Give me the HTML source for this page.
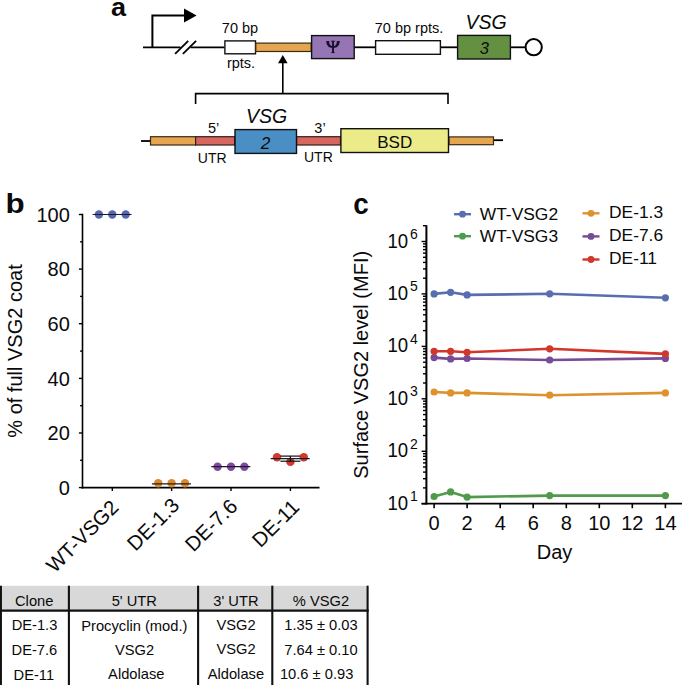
<!DOCTYPE html>
<html><head><meta charset="utf-8"><style>
html,body{margin:0;padding:0;background:#fff;}
body{width:682px;height:685px;position:relative;overflow:hidden;font-family:"Liberation Sans",sans-serif;}
svg{position:absolute;left:0;top:0;}
svg text{font-family:"Liberation Sans",sans-serif;fill:#0a0a0a;}
svg text.serif{font-family:"Liberation Serif",serif;}
</style></head><body>
<svg width="682" height="685" viewBox="0 0 682 685">
<text transform="translate(110.9,15.5) scale(1.04,1)" font-size="26" font-weight="bold">a</text>
<polyline points="152.4,47.3 152.4,15.6 185,15.6" fill="none" stroke="#000" stroke-width="2"/>
<polygon points="184,8.4 196.6,15.6 184,22.6" fill="#000"/>
<line x1="143" y1="47.3" x2="180.5" y2="47.3" stroke="#000" stroke-width="1.8"/>
<line x1="190.5" y1="47.3" x2="224.5" y2="47.3" stroke="#000" stroke-width="1.8"/>
<line x1="175.1" y1="53.9" x2="188.2" y2="40.9" stroke="#000" stroke-width="1.8"/>
<line x1="182.9" y1="53.9" x2="196.1" y2="40.9" stroke="#000" stroke-width="1.8"/>
<line x1="354" y1="47.3" x2="376" y2="47.3" stroke="#000" stroke-width="1.8"/>
<line x1="440" y1="47.3" x2="458" y2="47.3" stroke="#000" stroke-width="1.8"/>
<line x1="510" y1="47.3" x2="526" y2="47.3" stroke="#000" stroke-width="1.8"/>
<rect x="224.9" y="40.9" width="30.6" height="12.9" fill="#fff" stroke="#111" stroke-width="1.4"/>
<rect x="255.8" y="43.1" width="55.4" height="8.4" fill="#E5A652" stroke="#3a2a10" stroke-width="1.2"/>
<rect x="311.6" y="35.6" width="42.6" height="23" fill="#9675B4" stroke="#111" stroke-width="1.4"/>
<g fill="#1a1030"><path d="M326.2,41.0 L329.2,41.0 C329.0,43.8 330.0,46.0 333,46.3 L333,47.9 C328.3,47.9 326.5,45.4 326.2,41.0 Z"/><path d="M339.8,41.0 L336.8,41.0 C337.0,43.8 336.0,46.0 333,46.3 L333,47.9 C337.7,47.9 339.5,45.4 339.8,41.0 Z"/><rect x="332.05" y="41.0" width="1.9" height="11.9"/><rect x="330.9" y="40.7" width="4.2" height="0.9"/><rect x="331.3" y="52.2" width="3.4" height="0.9"/></g>
<rect x="375.6" y="40.7" width="64.8" height="13.6" fill="#fff" stroke="#111" stroke-width="1.4"/>
<rect x="457.6" y="35.4" width="52.8" height="23.6" fill="#649042" stroke="#111" stroke-width="1.4"/>
<text x="484.3" y="54.1" font-size="16.5" font-style="italic" text-anchor="middle" fill="#111">3</text>
<circle cx="533.7" cy="47.2" r="8.1" fill="#fff" stroke="#000" stroke-width="2"/>
<text x="240" y="33.2" font-size="14.5" text-anchor="middle">70 bp</text>
<text x="241" y="67.9" font-size="14.5" text-anchor="middle">rpts.</text>
<text x="409" y="33.2" font-size="14.5" text-anchor="middle">70 bp rpts.</text>
<text x="486" y="28.6" font-size="19.5" font-style="italic" text-anchor="middle">VSG</text>
<line x1="282.8" y1="62" x2="282.8" y2="94" stroke="#000" stroke-width="1.6"/>
<polygon points="278,63.2 282.8,55 287.6,63.2" fill="#000"/>
<polyline points="195.6,104 195.6,93.6 448,93.6 448,104" fill="none" stroke="#000" stroke-width="1.6"/>
<line x1="141" y1="141" x2="151" y2="141" stroke="#000" stroke-width="1.8"/>
<line x1="493" y1="140.2" x2="503" y2="140.2" stroke="#000" stroke-width="1.8"/>
<rect x="150.5" y="136.7" width="45.1" height="8.3" fill="#E5A652" stroke="#3a2a10" stroke-width="1.2"/>
<rect x="195.6" y="136.7" width="39" height="8.3" fill="#D6665E" stroke="#3a1a1a" stroke-width="1.2"/>
<rect x="296.5" y="136.7" width="44" height="8.3" fill="#D6665E" stroke="#3a1a1a" stroke-width="1.2"/>
<rect x="449" y="136.9" width="44.5" height="7.8" fill="#E5A652" stroke="#3a2a10" stroke-width="1.2"/>
<rect x="235" y="129.6" width="61.5" height="23.8" fill="#4A8FC4" stroke="#111" stroke-width="1.4"/>
<rect x="340.9" y="128.7" width="107.6" height="23.8" fill="#ECEB8A" stroke="#111" stroke-width="1.4"/>
<text x="265.6" y="149.1" font-size="17.2" font-style="italic" text-anchor="middle" fill="#0a1a30">2</text>
<text x="394.7" y="147.7" font-size="17" text-anchor="middle">BSD</text>
<text x="266.6" y="123.4" font-size="19.5" font-style="italic" text-anchor="middle">VSG</text>
<text x="213.6" y="132.7" font-size="14.5" text-anchor="middle">5&#8217;</text>
<text x="320" y="132.5" font-size="14.5" text-anchor="middle">3&#8217;</text>
<text x="212.2" y="163.3" font-size="14" text-anchor="middle">UTR</text>
<text x="318.4" y="162.4" font-size="14" text-anchor="middle">UTR</text>
<text transform="translate(5.6,213) scale(1.1,1)" font-size="28.5" font-weight="bold">b</text>
<line x1="82.5" y1="213.8" x2="82.5" y2="488.4" stroke="#000" stroke-width="1.6"/>
<line x1="81.7" y1="487.6" x2="319.5" y2="487.6" stroke="#000" stroke-width="1.6"/>
<line x1="78.9" y1="487.6" x2="82.5" y2="487.6" stroke="#000" stroke-width="1.4"/>
<text x="69.8" y="494.8" font-size="20" text-anchor="end">0</text>
<line x1="80.1" y1="460.3" x2="82.5" y2="460.3" stroke="#000" stroke-width="1.4"/>
<line x1="78.9" y1="433.0" x2="82.5" y2="433.0" stroke="#000" stroke-width="1.4"/>
<text x="69.8" y="440.2" font-size="20" text-anchor="end">20</text>
<line x1="80.1" y1="405.7" x2="82.5" y2="405.7" stroke="#000" stroke-width="1.4"/>
<line x1="78.9" y1="378.4" x2="82.5" y2="378.4" stroke="#000" stroke-width="1.4"/>
<text x="69.8" y="385.6" font-size="20" text-anchor="end">40</text>
<line x1="80.1" y1="351.1" x2="82.5" y2="351.1" stroke="#000" stroke-width="1.4"/>
<line x1="78.9" y1="323.7" x2="82.5" y2="323.7" stroke="#000" stroke-width="1.4"/>
<text x="69.8" y="330.9" font-size="20" text-anchor="end">60</text>
<line x1="80.1" y1="296.4" x2="82.5" y2="296.4" stroke="#000" stroke-width="1.4"/>
<line x1="78.9" y1="269.1" x2="82.5" y2="269.1" stroke="#000" stroke-width="1.4"/>
<text x="69.8" y="276.3" font-size="20" text-anchor="end">80</text>
<line x1="80.1" y1="241.8" x2="82.5" y2="241.8" stroke="#000" stroke-width="1.4"/>
<line x1="78.9" y1="214.5" x2="82.5" y2="214.5" stroke="#000" stroke-width="1.4"/>
<text x="69.8" y="221.7" font-size="20" text-anchor="end">100</text>
<line x1="112.3" y1="487.6" x2="112.3" y2="491" stroke="#000" stroke-width="1.4"/>
<line x1="171.6" y1="487.6" x2="171.6" y2="491" stroke="#000" stroke-width="1.4"/>
<line x1="231.0" y1="487.6" x2="231.0" y2="491" stroke="#000" stroke-width="1.4"/>
<line x1="290.4" y1="487.6" x2="290.4" y2="491" stroke="#000" stroke-width="1.4"/>
<text transform="translate(21.8,351) rotate(-90)" font-size="20" text-anchor="middle">% of full VSG2 coat</text>
<text transform="translate(119.9,508.6) rotate(-45)" font-size="20.5" text-anchor="end">WT-VSG2</text>
<text transform="translate(180.6,506.8) rotate(-45)" font-size="20.5" text-anchor="end">DE-1.3</text>
<text transform="translate(238.7,507.6) rotate(-45)" font-size="20.5" text-anchor="end">DE-7.6</text>
<text transform="translate(300.6,508.4) rotate(-45)" font-size="20.5" text-anchor="end">DE-11</text>
<circle cx="98.9" cy="214.5" r="4.2" fill="#5566AE"/>
<circle cx="112.3" cy="214.5" r="4.2" fill="#5566AE"/>
<circle cx="125.7" cy="214.5" r="4.2" fill="#5566AE"/>
<line x1="92.6" y1="214.5" x2="131.6" y2="214.5" stroke="#1a1a2a" stroke-width="1.2"/>
<circle cx="158.2" cy="483.2" r="4.2" fill="#D98A2B"/>
<circle cx="171.6" cy="483.2" r="4.2" fill="#D98A2B"/>
<circle cx="185.0" cy="483.2" r="4.2" fill="#D98A2B"/>
<line x1="151.9" y1="483.9" x2="190.9" y2="483.9" stroke="#1a1a2a" stroke-width="1.2"/>
<circle cx="217.6" cy="466.7" r="4.2" fill="#7F4A9E"/>
<circle cx="231.0" cy="466.7" r="4.2" fill="#7F4A9E"/>
<circle cx="244.4" cy="466.7" r="4.2" fill="#7F4A9E"/>
<line x1="211.3" y1="466.7" x2="250.3" y2="466.7" stroke="#1a1a2a" stroke-width="1.2"/>
<circle cx="277.0" cy="457.2" r="4.2" fill="#D03A2E"/>
<circle cx="290.4" cy="461.9" r="4.2" fill="#D03A2E"/>
<circle cx="303.8" cy="457.2" r="4.2" fill="#D03A2E"/>
<line x1="270.7" y1="458.7" x2="309.7" y2="458.7" stroke="#1a1a2a" stroke-width="1.2"/>
<line x1="290.4" y1="456.1" x2="290.4" y2="461.2" stroke="#111" stroke-width="1.2"/>
<line x1="280.4" y1="456.1" x2="300.4" y2="456.1" stroke="#111" stroke-width="1.2"/>
<line x1="280.4" y1="461.2" x2="300.4" y2="461.2" stroke="#111" stroke-width="1.2"/>
<text transform="translate(353.3,213.8) scale(0.93,1)" font-size="30" font-weight="bold">c</text>
<line x1="426.4" y1="225.2" x2="426.4" y2="504.5" stroke="#000" stroke-width="2"/>
<line x1="421.5" y1="503.7" x2="682" y2="503.7" stroke="#000" stroke-width="1.8"/>
<line x1="421.6" y1="503.7" x2="426.4" y2="503.7" stroke="#000" stroke-width="1.4"/>
<line x1="423.0" y1="487.9" x2="426.4" y2="487.9" stroke="#000" stroke-width="1.4"/>
<line x1="423.0" y1="478.7" x2="426.4" y2="478.7" stroke="#000" stroke-width="1.4"/>
<line x1="423.0" y1="472.1" x2="426.4" y2="472.1" stroke="#000" stroke-width="1.4"/>
<line x1="423.0" y1="467.0" x2="426.4" y2="467.0" stroke="#000" stroke-width="1.4"/>
<line x1="423.0" y1="462.9" x2="426.4" y2="462.9" stroke="#000" stroke-width="1.4"/>
<line x1="423.0" y1="459.4" x2="426.4" y2="459.4" stroke="#000" stroke-width="1.4"/>
<line x1="423.0" y1="456.3" x2="426.4" y2="456.3" stroke="#000" stroke-width="1.4"/>
<line x1="423.0" y1="453.7" x2="426.4" y2="453.7" stroke="#000" stroke-width="1.4"/>
<text transform="translate(408.2,509.7) scale(0.93,1)" font-size="20" text-anchor="end">10</text>
<text x="410" y="501.0" font-size="14">1</text>
<line x1="421.6" y1="451.3" x2="426.4" y2="451.3" stroke="#000" stroke-width="1.4"/>
<line x1="423.0" y1="435.5" x2="426.4" y2="435.5" stroke="#000" stroke-width="1.4"/>
<line x1="423.0" y1="426.2" x2="426.4" y2="426.2" stroke="#000" stroke-width="1.4"/>
<line x1="423.0" y1="419.7" x2="426.4" y2="419.7" stroke="#000" stroke-width="1.4"/>
<line x1="423.0" y1="414.6" x2="426.4" y2="414.6" stroke="#000" stroke-width="1.4"/>
<line x1="423.0" y1="410.5" x2="426.4" y2="410.5" stroke="#000" stroke-width="1.4"/>
<line x1="423.0" y1="406.9" x2="426.4" y2="406.9" stroke="#000" stroke-width="1.4"/>
<line x1="423.0" y1="403.9" x2="426.4" y2="403.9" stroke="#000" stroke-width="1.4"/>
<line x1="423.0" y1="401.2" x2="426.4" y2="401.2" stroke="#000" stroke-width="1.4"/>
<text transform="translate(408.2,457.3) scale(0.93,1)" font-size="20" text-anchor="end">10</text>
<text x="410" y="448.6" font-size="14">2</text>
<line x1="421.6" y1="398.8" x2="426.4" y2="398.8" stroke="#000" stroke-width="1.4"/>
<line x1="423.0" y1="383.0" x2="426.4" y2="383.0" stroke="#000" stroke-width="1.4"/>
<line x1="423.0" y1="373.8" x2="426.4" y2="373.8" stroke="#000" stroke-width="1.4"/>
<line x1="423.0" y1="367.2" x2="426.4" y2="367.2" stroke="#000" stroke-width="1.4"/>
<line x1="423.0" y1="362.2" x2="426.4" y2="362.2" stroke="#000" stroke-width="1.4"/>
<line x1="423.0" y1="358.0" x2="426.4" y2="358.0" stroke="#000" stroke-width="1.4"/>
<line x1="423.0" y1="354.5" x2="426.4" y2="354.5" stroke="#000" stroke-width="1.4"/>
<line x1="423.0" y1="351.5" x2="426.4" y2="351.5" stroke="#000" stroke-width="1.4"/>
<line x1="423.0" y1="348.8" x2="426.4" y2="348.8" stroke="#000" stroke-width="1.4"/>
<text transform="translate(408.2,404.8) scale(0.93,1)" font-size="20" text-anchor="end">10</text>
<text x="410" y="396.1" font-size="14">3</text>
<line x1="421.6" y1="346.4" x2="426.4" y2="346.4" stroke="#000" stroke-width="1.4"/>
<line x1="423.0" y1="330.6" x2="426.4" y2="330.6" stroke="#000" stroke-width="1.4"/>
<line x1="423.0" y1="321.4" x2="426.4" y2="321.4" stroke="#000" stroke-width="1.4"/>
<line x1="423.0" y1="314.8" x2="426.4" y2="314.8" stroke="#000" stroke-width="1.4"/>
<line x1="423.0" y1="309.7" x2="426.4" y2="309.7" stroke="#000" stroke-width="1.4"/>
<line x1="423.0" y1="305.6" x2="426.4" y2="305.6" stroke="#000" stroke-width="1.4"/>
<line x1="423.0" y1="302.1" x2="426.4" y2="302.1" stroke="#000" stroke-width="1.4"/>
<line x1="423.0" y1="299.0" x2="426.4" y2="299.0" stroke="#000" stroke-width="1.4"/>
<line x1="423.0" y1="296.3" x2="426.4" y2="296.3" stroke="#000" stroke-width="1.4"/>
<text transform="translate(408.2,352.4) scale(0.93,1)" font-size="20" text-anchor="end">10</text>
<text x="410" y="343.7" font-size="14">4</text>
<line x1="421.6" y1="293.9" x2="426.4" y2="293.9" stroke="#000" stroke-width="1.4"/>
<line x1="423.0" y1="278.2" x2="426.4" y2="278.2" stroke="#000" stroke-width="1.4"/>
<line x1="423.0" y1="268.9" x2="426.4" y2="268.9" stroke="#000" stroke-width="1.4"/>
<line x1="423.0" y1="262.4" x2="426.4" y2="262.4" stroke="#000" stroke-width="1.4"/>
<line x1="423.0" y1="257.3" x2="426.4" y2="257.3" stroke="#000" stroke-width="1.4"/>
<line x1="423.0" y1="253.1" x2="426.4" y2="253.1" stroke="#000" stroke-width="1.4"/>
<line x1="423.0" y1="249.6" x2="426.4" y2="249.6" stroke="#000" stroke-width="1.4"/>
<line x1="423.0" y1="246.6" x2="426.4" y2="246.6" stroke="#000" stroke-width="1.4"/>
<line x1="423.0" y1="243.9" x2="426.4" y2="243.9" stroke="#000" stroke-width="1.4"/>
<text transform="translate(408.2,299.9) scale(0.93,1)" font-size="20" text-anchor="end">10</text>
<text x="410" y="291.2" font-size="14">5</text>
<line x1="421.6" y1="241.5" x2="426.4" y2="241.5" stroke="#000" stroke-width="1.4"/>
<line x1="423.0" y1="225.7" x2="426.4" y2="225.7" stroke="#000" stroke-width="1.4"/>
<text transform="translate(408.2,247.5) scale(0.93,1)" font-size="20" text-anchor="end">10</text>
<text x="410" y="238.8" font-size="14">6</text>
<line x1="434.1" y1="503.7" x2="434.1" y2="508.2" stroke="#000" stroke-width="1.6"/>
<text x="434.1" y="530.3" font-size="20" text-anchor="middle">0</text>
<line x1="467.1" y1="503.7" x2="467.1" y2="508.2" stroke="#000" stroke-width="1.6"/>
<text x="467.1" y="530.3" font-size="20" text-anchor="middle">2</text>
<line x1="500.2" y1="503.7" x2="500.2" y2="508.2" stroke="#000" stroke-width="1.6"/>
<text x="500.2" y="530.3" font-size="20" text-anchor="middle">4</text>
<line x1="533.2" y1="503.7" x2="533.2" y2="508.2" stroke="#000" stroke-width="1.6"/>
<text x="533.2" y="530.3" font-size="20" text-anchor="middle">6</text>
<line x1="566.3" y1="503.7" x2="566.3" y2="508.2" stroke="#000" stroke-width="1.6"/>
<text x="566.3" y="530.3" font-size="20" text-anchor="middle">8</text>
<line x1="599.3" y1="503.7" x2="599.3" y2="508.2" stroke="#000" stroke-width="1.6"/>
<text x="599.3" y="530.3" font-size="20" text-anchor="middle">10</text>
<line x1="632.3" y1="503.7" x2="632.3" y2="508.2" stroke="#000" stroke-width="1.6"/>
<text x="632.3" y="530.3" font-size="20" text-anchor="middle">12</text>
<line x1="665.4" y1="503.7" x2="665.4" y2="508.2" stroke="#000" stroke-width="1.6"/>
<text x="665.4" y="530.3" font-size="20" text-anchor="middle">14</text>
<text x="554.5" y="559.2" font-size="20" text-anchor="middle">Day</text>
<text transform="translate(368,364.8) rotate(-90)" font-size="20" text-anchor="middle">Surface VSG2 level (MFI)</text>
<polyline points="434.1,496.5 450.6,491.9 467.1,497.1 549.7,495.6 665.4,495.6" fill="none" stroke="#509B4B" stroke-width="2.6" stroke-linejoin="round"/>
<circle cx="434.1" cy="496.5" r="3.6" fill="#509B4B"/>
<circle cx="450.6" cy="491.9" r="3.6" fill="#509B4B"/>
<circle cx="467.1" cy="497.1" r="3.6" fill="#509B4B"/>
<circle cx="549.7" cy="495.6" r="3.6" fill="#509B4B"/>
<circle cx="665.4" cy="495.6" r="3.6" fill="#509B4B"/>
<polyline points="434.1,392 450.6,392.9 467.1,392.9 549.7,395.2 665.4,392.9" fill="none" stroke="#DE912D" stroke-width="2.6" stroke-linejoin="round"/>
<circle cx="434.1" cy="392" r="3.6" fill="#DE912D"/>
<circle cx="450.6" cy="392.9" r="3.6" fill="#DE912D"/>
<circle cx="467.1" cy="392.9" r="3.6" fill="#DE912D"/>
<circle cx="549.7" cy="395.2" r="3.6" fill="#DE912D"/>
<circle cx="665.4" cy="392.9" r="3.6" fill="#DE912D"/>
<polyline points="434.1,357.6 450.6,358.9 467.1,358.5 549.7,360 665.4,358.4" fill="none" stroke="#784B96" stroke-width="2.6" stroke-linejoin="round"/>
<circle cx="434.1" cy="357.6" r="3.6" fill="#784B96"/>
<circle cx="450.6" cy="358.9" r="3.6" fill="#784B96"/>
<circle cx="467.1" cy="358.5" r="3.6" fill="#784B96"/>
<circle cx="549.7" cy="360" r="3.6" fill="#784B96"/>
<circle cx="665.4" cy="358.4" r="3.6" fill="#784B96"/>
<polyline points="434.1,351.3 450.6,351.3 467.1,352.3 549.7,348.8 665.4,353.9" fill="none" stroke="#D2372D" stroke-width="2.6" stroke-linejoin="round"/>
<circle cx="434.1" cy="351.3" r="3.6" fill="#D2372D"/>
<circle cx="450.6" cy="351.3" r="3.6" fill="#D2372D"/>
<circle cx="467.1" cy="352.3" r="3.6" fill="#D2372D"/>
<circle cx="549.7" cy="348.8" r="3.6" fill="#D2372D"/>
<circle cx="665.4" cy="353.9" r="3.6" fill="#D2372D"/>
<polyline points="434.1,293.9 450.6,292.3 467.1,294.9 549.7,293.8 665.4,297.8" fill="none" stroke="#586EAF" stroke-width="2.6" stroke-linejoin="round"/>
<circle cx="434.1" cy="293.9" r="3.6" fill="#586EAF"/>
<circle cx="450.6" cy="292.3" r="3.6" fill="#586EAF"/>
<circle cx="467.1" cy="294.9" r="3.6" fill="#586EAF"/>
<circle cx="549.7" cy="293.8" r="3.6" fill="#586EAF"/>
<circle cx="665.4" cy="297.8" r="3.6" fill="#586EAF"/>
<line x1="454" y1="214.2" x2="471" y2="214.2" stroke="#586EAF" stroke-width="2.4"/>
<circle cx="462.5" cy="214.2" r="3.4" fill="#586EAF"/>
<text x="479.8" y="220.2" font-size="17.4">WT-VSG2</text>
<line x1="454" y1="236.2" x2="471" y2="236.2" stroke="#509B4B" stroke-width="2.4"/>
<circle cx="462.5" cy="236.2" r="3.4" fill="#509B4B"/>
<text x="479.8" y="242.2" font-size="17.4">WT-VSG3</text>
<line x1="582.5" y1="213.3" x2="599.5" y2="213.3" stroke="#DE912D" stroke-width="2.4"/>
<circle cx="591.0" cy="213.3" r="3.4" fill="#DE912D"/>
<text x="609.0" y="217.9" font-size="17.4">DE-1.3</text>
<line x1="582.5" y1="236.4" x2="599.5" y2="236.4" stroke="#784B96" stroke-width="2.4"/>
<circle cx="591.0" cy="236.4" r="3.4" fill="#784B96"/>
<text x="609.0" y="241.1" font-size="17.4">DE-7.6</text>
<line x1="582.5" y1="259.5" x2="599.5" y2="259.5" stroke="#D2372D" stroke-width="2.4"/>
<circle cx="591.0" cy="259.5" r="3.4" fill="#D2372D"/>
<text x="609.0" y="264.2" font-size="17.4">DE-11</text>
<rect x="0" y="585.8" width="367.6" height="24.5" fill="#D8D8D8"/>
<line x1="0" y1="610.6" x2="368.7" y2="610.6" stroke="#111" stroke-width="2.1"/>
<line x1="0.9" y1="585.7" x2="0.9" y2="685" stroke="#111" stroke-width="2.1"/>
<line x1="68.9" y1="585.7" x2="68.9" y2="685" stroke="#111" stroke-width="2.1"/>
<line x1="198.1" y1="585.7" x2="198.1" y2="685" stroke="#111" stroke-width="2.1"/>
<line x1="272.3" y1="585.7" x2="272.3" y2="685" stroke="#111" stroke-width="2.1"/>
<line x1="367.6" y1="585.7" x2="367.6" y2="685" stroke="#111" stroke-width="2.1"/>
<text transform="translate(34.2,605.6) scale(1.05,1)" font-size="14" text-anchor="middle">Clone</text>
<text transform="translate(134.3,605.8) scale(1.05,1)" font-size="14" text-anchor="middle">5' UTR</text>
<text transform="translate(235.9,605.5) scale(1.05,1)" font-size="14" text-anchor="middle">3' UTR</text>
<text transform="translate(320.9,605.5) scale(1.05,1)" font-size="14" text-anchor="middle">% VSG2</text>
<text transform="translate(34.5,630.4) scale(1.05,1)" font-size="14" text-anchor="middle">DE-1.3</text>
<text transform="translate(134.3,630.8) scale(1.05,1)" font-size="14" text-anchor="middle">Procyclin (mod.)</text>
<text transform="translate(236,629.6) scale(1.05,1)" font-size="14" text-anchor="middle">VSG2</text>
<text transform="translate(321,629.7) scale(1.05,1)" font-size="14" text-anchor="middle">1.35 &#177; 0.03</text>
<text transform="translate(34.4,654.9) scale(1.05,1)" font-size="14" text-anchor="middle">DE-7.6</text>
<text transform="translate(134.6,654.6) scale(1.05,1)" font-size="14" text-anchor="middle">VSG2</text>
<text transform="translate(236,653.8) scale(1.05,1)" font-size="14" text-anchor="middle">VSG2</text>
<text transform="translate(321,654.6) scale(1.05,1)" font-size="14" text-anchor="middle">7.64 &#177; 0.10</text>
<text transform="translate(33.8,679.5) scale(1.05,1)" font-size="14" text-anchor="middle">DE-11</text>
<text transform="translate(136.3,678.8) scale(1.05,1)" font-size="14" text-anchor="middle">Aldolase</text>
<text transform="translate(235.9,678.5) scale(1.05,1)" font-size="14" text-anchor="middle">Aldolase</text>
<text transform="translate(316.6,678.8) scale(1.05,1)" font-size="14" text-anchor="middle">10.6 &#177; 0.93</text>
</svg>

</body></html>
